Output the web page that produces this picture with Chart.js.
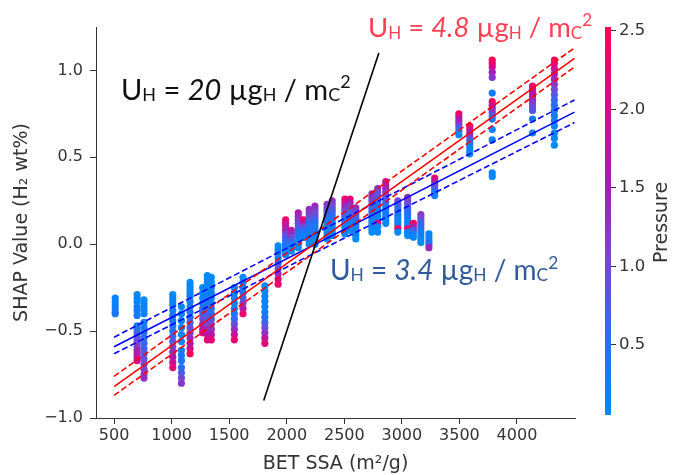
<!DOCTYPE html>
<html>
<head>
<meta charset="utf-8">
<script src="https://cdn.jsdelivr.net/npm/chart.js@4.4.1/dist/chart.umd.min.js"></script>
<style>
  html, body { margin: 0; padding: 0; background: #fff; }
  #wrap { width: 675px; height: 475px; }
</style>
</head>
<body>
<div id="wrap"><canvas id="shapChart" width="675" height="475"></canvas></div>
<script>
// BET SSA of each material column (m2/g)
const columnSSA = [510, 700, 760, 1010, 1085, 1160, 1270, 1310, 1345, 1545, 1620, 1810, 1925,
  1990, 2040, 2100, 2145, 2195, 2245, 2350, 2395, 2505, 2550, 2600, 2740, 2790, 2860, 2965,
  3050, 3100, 3165, 3235, 3285, 3495, 3590, 3785, 4135, 4325];

// SHAP values per column, top to bottom
const columnSHAP = [
  [-0.31, -0.33, -0.35, -0.37, -0.39, -0.40],
  [-0.29, -0.31, -0.33, -0.36, -0.38, -0.41, -0.47, -0.49, -0.51, -0.53, -0.55, -0.57, -0.59, -0.61, -0.63, -0.65, -0.67],
  [-0.32, -0.34, -0.36, -0.38, -0.40, -0.45, -0.48, -0.51, -0.54, -0.57, -0.60, -0.63, -0.66, -0.69, -0.72, -0.75, -0.77],
  [-0.29, -0.31, -0.33, -0.35, -0.38, -0.41, -0.44, -0.47, -0.50, -0.53, -0.56, -0.59, -0.62, -0.65, -0.68, -0.71],
  [-0.36, -0.40, -0.44, -0.48, -0.52, -0.56, -0.61, -0.64, -0.67, -0.71, -0.74, -0.77, -0.80],
  [-0.22, -0.24, -0.26, -0.28, -0.30, -0.33, -0.36, -0.39, -0.42, -0.45, -0.48, -0.51, -0.54, -0.57, -0.60, -0.63],
  [-0.25, -0.28, -0.31, -0.34, -0.37, -0.40, -0.43, -0.46, -0.49, -0.51],
  [-0.18, -0.20, -0.22, -0.25, -0.28, -0.31, -0.34, -0.37, -0.40, -0.43, -0.46, -0.49, -0.52, -0.55],
  [-0.19, -0.22, -0.25, -0.28, -0.31, -0.34, -0.37, -0.40, -0.43, -0.46, -0.49, -0.52, -0.55],
  [-0.25, -0.28, -0.31, -0.34, -0.37, -0.40, -0.43, -0.46, -0.49, -0.52, -0.55],
  [-0.19, -0.22, -0.25, -0.28, -0.31, -0.34, -0.37, -0.40],
  [-0.24, -0.27, -0.30, -0.33, -0.36, -0.39, -0.42, -0.45, -0.48, -0.51, -0.54, -0.57],
  [-0.01, -0.03, -0.05, -0.08, -0.11, -0.14, -0.17, -0.20, -0.23],
  [0.14, 0.12, 0.10, 0.08, 0.06, 0.04, 0.02, 0.00, -0.02, -0.04, -0.06],
  [0.08, 0.06, 0.04, 0.02, 0.00, -0.02, -0.04],
  [0.18, 0.16, 0.14, 0.12, 0.10, 0.08, 0.06, 0.04, 0.02, 0.00, -0.02],
  [0.14, 0.12, 0.10, 0.08, 0.06, 0.04],
  [0.20, 0.18, 0.16, 0.14, 0.12, 0.10, 0.08, 0.06, 0.04, 0.02, 0.00],
  [0.22, 0.20, 0.18, 0.16, 0.14, 0.12, 0.10, 0.08, 0.06, 0.04, 0.02, 0.00],
  [0.23, 0.21, 0.19, 0.17, 0.15, 0.13, 0.11, 0.09, 0.07, 0.05, 0.03],
  [0.25, 0.23, 0.21, 0.19, 0.17, 0.15, 0.13, 0.11, 0.09, 0.07, 0.05],
  [0.26, 0.24, 0.22, 0.20, 0.18, 0.16, 0.14, 0.12, 0.10, 0.08, 0.06],
  [0.26, 0.24, 0.22, 0.20, 0.18, 0.16, 0.14, 0.12, 0.10, 0.08],
  [0.21, 0.19, 0.17, 0.15, 0.13, 0.11, 0.09, 0.07, 0.05, 0.03],
  [0.29, 0.27, 0.25, 0.23, 0.21, 0.19, 0.17, 0.15, 0.13, 0.11, 0.09, 0.07],
  [0.32, 0.30, 0.28, 0.26, 0.24, 0.22, 0.20, 0.18, 0.16, 0.14, 0.12, 0.10, 0.07],
  [0.36, 0.34, 0.32, 0.30, 0.28, 0.26, 0.24, 0.22, 0.20, 0.18, 0.16, 0.14, 0.12],
  [0.25, 0.23, 0.21, 0.19, 0.17, 0.15, 0.13, 0.11, 0.09, 0.07],
  [0.27, 0.25, 0.23, 0.21, 0.19, 0.17, 0.15, 0.13, 0.11, 0.09, 0.07, 0.05],
  [0.12, 0.10, 0.08, 0.06, 0.04],
  [0.17, 0.15, 0.13, 0.11, 0.09, 0.07, 0.05, 0.03, 0.01],
  [0.06, 0.04, 0.02, 0.00, -0.02],
  [0.38, 0.36, 0.34, 0.32, 0.30, 0.28],
  [0.75, 0.73, 0.71, 0.69, 0.67, 0.65, 0.63],
  [0.68, 0.66, 0.64, 0.62, 0.60, 0.58, 0.56, 0.54, 0.52],
  [1.06, 1.04, 1.02, 0.99, 0.96, 0.87, 0.82, 0.80, 0.78, 0.76, 0.74, 0.72, 0.66, 0.60, 0.41, 0.39],
  [0.91, 0.89, 0.87, 0.85, 0.83, 0.81, 0.79, 0.77, 0.72, 0.64],
  [1.06, 1.04, 1.01, 0.98, 0.95, 0.92, 0.89, 0.86, 0.83, 0.80, 0.77, 0.74, 0.71, 0.68, 0.64, 0.61, 0.57]
];

// pressure of each point (colour), same layout as columnSHAP
const columnPressure = [
  [0.10, 0.15, 0.20, 0.25, 0.30, 0.35],
  [0.05, 0.10, 0.15, 0.20, 0.25, 0.30, 0.35, 0.45, 0.60, 0.75, 0.90, 1.05, 1.20, 1.40, 1.60, 1.80, 2.00],
  [0.05, 0.08, 0.10, 0.12, 0.15, 0.20, 0.30, 0.40, 0.50, 0.60, 0.70, 0.80, 0.90, 1.00, 1.10, 1.20, 1.30],
  [0.05, 0.10, 0.15, 0.20, 0.25, 0.30, 0.35, 0.40, 0.50, 0.60, 0.80, 1.00, 1.30, 1.60, 1.90, 2.20],
  [0.05, 0.08, 0.10, 0.12, 0.15, 0.20, 0.25, 0.30, 0.40, 0.50, 0.70, 1.00, 1.20],
  [0.05, 0.08, 0.10, 0.15, 0.20, 0.25, 0.30, 0.40, 0.50, 0.70, 0.90, 1.10, 1.40, 1.70, 2.00, 2.40],
  [0.05, 0.10, 0.20, 0.30, 0.50, 0.70, 1.00, 1.30, 1.70, 2.10],
  [0.05, 0.08, 0.10, 0.15, 0.20, 0.25, 0.35, 0.45, 0.60, 0.80, 1.00, 1.30, 1.70, 2.20],
  [0.05, 0.08, 0.10, 0.15, 0.20, 0.30, 0.40, 0.55, 0.75, 1.00, 1.30, 1.70, 2.20],
  [0.05, 0.08, 0.10, 0.15, 0.25, 0.40, 0.60, 0.90, 1.30, 1.80, 2.30],
  [0.05, 0.10, 0.20, 0.40, 0.70, 1.10, 1.60, 2.30],
  [0.05, 0.08, 0.10, 0.15, 0.20, 0.30, 0.45, 0.65, 0.90, 1.30, 1.80, 2.20],
  [0.05, 0.10, 0.20, 0.35, 0.60, 0.90, 1.30, 1.80, 2.30],
  [2.30, 2.00, 1.70, 1.40, 1.10, 0.80, 0.60, 0.40, 0.30, 0.20, 0.10],
  [1.80, 1.40, 1.00, 0.70, 0.40, 0.20, 0.10],
  [1.60, 1.40, 1.20, 1.00, 0.80, 0.60, 0.40, 0.30, 0.20, 0.10, 0.05],
  [2.40, 1.60, 1.00, 0.60, 0.30, 0.10],
  [1.30, 1.20, 1.00, 0.80, 0.60, 0.50, 0.40, 0.30, 0.20, 0.10, 0.05],
  [1.40, 1.20, 1.00, 0.90, 0.70, 0.50, 0.40, 0.30, 0.20, 0.15, 0.10, 0.05],
  [1.20, 1.00, 0.85, 0.70, 0.55, 0.45, 0.35, 0.25, 0.15, 0.10, 0.05],
  [1.30, 1.10, 0.90, 0.75, 0.60, 0.45, 0.35, 0.25, 0.15, 0.10, 0.05],
  [2.30, 2.00, 1.50, 1.20, 0.90, 0.70, 0.50, 0.35, 0.25, 0.15, 0.10],
  [2.20, 1.60, 1.20, 0.90, 0.70, 0.50, 0.35, 0.25, 0.15, 0.10],
  [1.40, 1.10, 0.85, 0.65, 0.50, 0.35, 0.25, 0.15, 0.10, 0.05],
  [1.50, 1.30, 1.10, 0.90, 0.70, 0.55, 0.40, 0.30, 0.20, 0.15, 0.10, 0.05],
  [1.20, 1.00, 0.85, 0.70, 0.55, 0.45, 0.35, 0.25, 0.20, 0.15, 2.50, 0.10, 0.05],
  [2.00, 1.80, 1.50, 1.20, 1.00, 0.80, 0.60, 0.50, 0.40, 0.30, 0.20, 0.10, 0.05],
  [1.00, 0.80, 0.60, 0.50, 0.40, 0.30, 0.20, 0.10, 2.40, 0.05],
  [1.30, 1.10, 0.90, 0.75, 0.60, 0.45, 0.35, 0.25, 0.15, 2.40, 0.10, 0.05],
  [2.40, 1.50, 0.80, 0.30, 0.10],
  [1.20, 1.00, 0.80, 0.60, 0.45, 0.30, 0.20, 0.10, 0.05],
  [0.10, 0.20, 0.30, 0.50, 1.40],
  [2.20, 1.80, 1.20, 0.80, 0.40, 0.10],
  [2.40, 2.00, 1.60, 1.20, 0.80, 0.40, 0.10],
  [2.50, 2.00, 1.60, 1.20, 0.80, 0.50, 0.30, 0.15, 0.05],
  [2.50, 2.30, 2.10, 1.50, 1.20, 0.30, 2.40, 2.00, 1.60, 1.20, 0.80, 0.40, 0.20, 0.15, 0.10, 0.05],
  [2.30, 2.00, 1.80, 1.60, 1.40, 1.20, 1.00, 0.80, 0.30, 0.10],
  [2.50, 2.20, 1.90, 1.60, 1.40, 1.20, 1.00, 0.80, 0.60, 0.50, 0.40, 0.30, 0.25, 0.20, 0.15, 0.10, 0.05]
];

// fitted lines (end points)
const fitSSA = [500, 4500];
const redFit = [-0.82, 1.07];
const redUpper = [-0.76, 1.13];
const redLower = [-0.87, 1.02];
const blueFit = [-0.59, 0.76];
const blueUpper = [-0.535, 0.83];
const blueLower = [-0.63, 0.70];
const blackSSA = [1800, 2800];
const blackFit = [-0.90, 1.10];

// axes
const xTicks = [500, 1000, 1500, 2000, 2500, 3000, 3500, 4000];
const xTickLabels = ['500', '1000', '1500', '2000', '2500', '3000', '3500', '4000'];
const yTicks = [-1.0, -0.5, 0.0, 0.5, 1.0];
const yTickLabels = ['\u22121.0', '\u22120.5', '0.0', '0.5', '1.0'];
const pressureTicks = [0.5, 1.0, 1.5, 2.0, 2.5];
const pressureTickLabels = ['0.5', '1.0', '1.5', '2.0', '2.5'];
const pressureMin = 0.03;
const pressureMax = 2.52;

// shap-like blue -> red colour map
const cmapStops = [
  [0.0, [0, 138, 250]],
  [0.2, [40, 110, 245]],
  [0.4, [120, 70, 210]],
  [0.6, [165, 30, 180]],
  [0.8, [215, 10, 140]],
  [1.0, [255, 0, 82]]
];
function cmap(t) {
  t = Math.max(0, Math.min(1, t));
  for (let i = 1; i < cmapStops.length; i++) {
    const [t1, c1] = cmapStops[i];
    const [t0, c0] = cmapStops[i - 1];
    if (t <= t1) {
      const f = (t - t0) / (t1 - t0);
      const c = c0.map((v, k) => Math.round(v + (c1[k] - v) * f));
      return `rgb(${c[0]},${c[1]},${c[2]})`;
    }
  }
  return 'rgb(255,0,82)';
}
function pressureColor(p) {
  return cmap((p - pressureMin) / (pressureMax - pressureMin));
}

// flatten columns into points
const points = [];
const pointColors = [];
columnSSA.forEach((x, i) => {
  columnSHAP[i].forEach((y, j) => {
    points.push({ x: x, y: y });
    pointColors.push(pressureColor(columnPressure[i][j]));
  });
});

function linePoints(xs, ys) {
  return xs.map((x, i) => ({ x: x, y: ys[i] }));
}

const tickFont = { family: 'DejaVu Sans', size: 16 };
const labelFont = { family: 'DejaVu Sans', size: 19 };
const axisGrey = '#333333';

// annotations: rich text with sub/superscripts, placed in data coordinates
const notes = [
  { x: 560, y: 0.83, size: 29, color: '#111111',
    parts: [['U'], ['H', 'sub'], [' = '], ['20', 'it'], [' \u00b5g'], ['H', 'sub'], [' / m'], ['C', 'sub'], ['2', 'sup']] },
  { x: 2705, y: 1.19, size: 27.5, color: '#ff3f52',
    parts: [['U'], ['H', 'sub'], [' = '], ['4.8', 'it'], [' \u00b5g'], ['H', 'sub'], [' / m'], ['C', 'sub'], ['2', 'sup']] },
  { x: 2375, y: -0.205, size: 28, color: '#2f5b9e',
    parts: [['U'], ['H', 'sub'], [' = '], ['3.4', 'it'], [' \u00b5g'], ['H', 'sub'], [' / m'], ['C', 'sub'], ['2', 'sup']] }
];
const noteFamily = 'Lato';

const notesPlugin = {
  id: 'notes',
  afterDatasetsDraw(chart) {
    const ctx = chart.ctx;
    const xs = chart.scales.x, ys = chart.scales.y;
    ctx.save();
    ctx.textBaseline = 'alphabetic';
    ctx.textAlign = 'left';
    notes.forEach(n => {
      let px = xs.getPixelForValue(n.x);
      const py = ys.getPixelForValue(n.y);
      ctx.fillStyle = n.color;
      n.parts.forEach(([t, kind]) => {
        let size = n.size, dy = 0, style = '';
        if (kind === 'sub') { size = n.size * 0.62; dy = n.size * 0.04; }
        if (kind === 'sup') { size = n.size * 0.62; dy = -n.size * 0.4; }
        if (kind === 'it') style = 'italic ';
        ctx.font = `${style}${size}px ${noteFamily}`;
        ctx.fillText(t, px, py + dy);
        px += ctx.measureText(t).width;
      });
    });
    ctx.restore();
  }
};

// colour bar for pressure, drawn against the hidden "pc" scale
const colorbarPlugin = {
  id: 'colorbar',
  afterDraw(chart) {
    const ctx = chart.ctx;
    const pc = chart.scales.pc;
    const top = pc.getPixelForValue(pressureMax);
    const bottom = pc.getPixelForValue(pressureMin);
    const barLeft = chart.chartArea.right + 30;
    const barW = 6;
    const grad = ctx.createLinearGradient(0, bottom, 0, top);
    for (let i = 0; i <= 20; i++) grad.addColorStop(i / 20, cmap(i / 20));
    ctx.save();
    ctx.fillStyle = grad;
    ctx.fillRect(barLeft, top, barW, bottom - top - 3);
    ctx.strokeStyle = axisGrey;
    ctx.lineWidth = 1;
    ctx.fillStyle = axisGrey;
    ctx.font = `16.5px ${tickFont.family}`;
    ctx.textBaseline = 'middle';
    ctx.textAlign = 'left';
    pressureTicks.forEach((v, i) => {
      const y = Math.round(pc.getPixelForValue(v)) + 0.5;
      ctx.beginPath();
      ctx.moveTo(barLeft + barW, y);
      ctx.lineTo(barLeft + barW + 5, y);
      ctx.stroke();
      ctx.fillText(pressureTickLabels[i], barLeft + barW + 8, y);
    });
    ctx.translate(barLeft + 57, (top + bottom) / 2);
    ctx.rotate(-Math.PI / 2);
    ctx.textAlign = 'center';
    ctx.font = `${labelFont.size}px ${labelFont.family}`;
    ctx.fillText('Pressure', 0, 0);
    ctx.restore();
  }
};

const ctx = document.getElementById('shapChart').getContext('2d');
const chart = new Chart(ctx, {
  type: 'scatter',
  data: {
    datasets: [
      { data: points, pointBackgroundColor: pointColors, pointRadius: 3.6, pointBorderWidth: 0, order: 5 },
      { type: 'line', data: linePoints(fitSSA, redFit), borderColor: '#ff0000', borderWidth: 1.6, pointRadius: 0, order: 1 },
      { type: 'line', data: linePoints(fitSSA, redUpper), borderColor: '#ff0000', borderWidth: 1.6, borderDash: [6, 3], pointRadius: 0, order: 1 },
      { type: 'line', data: linePoints(fitSSA, redLower), borderColor: '#ff0000', borderWidth: 1.6, borderDash: [6, 3], pointRadius: 0, order: 1 },
      { type: 'line', data: linePoints(fitSSA, blueFit), borderColor: '#0000ff', borderWidth: 1.6, pointRadius: 0, order: 1 },
      { type: 'line', data: linePoints(fitSSA, blueUpper), borderColor: '#0000ff', borderWidth: 1.6, borderDash: [6, 3], pointRadius: 0, order: 1 },
      { type: 'line', data: linePoints(fitSSA, blueLower), borderColor: '#0000ff', borderWidth: 1.6, borderDash: [6, 3], pointRadius: 0, order: 1 },
      { type: 'line', data: linePoints(blackSSA, blackFit), borderColor: '#000000', borderWidth: 1.6, pointRadius: 0, order: 0 }
    ]
  },
  options: {
    responsive: false,
    animation: false,
    devicePixelRatio: 1,
    layout: { padding: { top: 27, right: 100, bottom: 0, left: 0 } },
    plugins: { legend: { display: false }, tooltip: { enabled: false } },
    scales: {
      x: {
        type: 'linear',
        min: 343,
        max: 4504,
        afterFit: s => { s.height = 57; },
        afterBuildTicks: s => { s.ticks = xTicks.map(v => ({ value: v })); },
        grid: { drawOnChartArea: false, drawTicks: true, tickLength: 6, tickColor: axisGrey },
        border: { display: true, color: axisGrey, width: 1 },
        ticks: {
          color: axisGrey, font: tickFont, padding: 2, maxRotation: 0,
          callback: v => xTickLabels[xTicks.indexOf(v)]
        },
        title: { display: true, text: 'BET SSA (m\u00b2/g)', color: axisGrey, font: labelFont, padding: 0 }
      },
      y: {
        type: 'linear',
        min: -1.0,
        max: 1.25,
        afterFit: s => { s.width = 96; },
        afterBuildTicks: s => { s.ticks = yTicks.map(v => ({ value: v })); },
        grid: { drawOnChartArea: false, drawTicks: true, tickLength: 6, tickColor: axisGrey },
        border: { display: true, color: axisGrey, width: 1 },
        ticks: {
          color: axisGrey, font: tickFont, padding: 7,
          callback: v => yTickLabels[yTicks.indexOf(v)]
        },
        title: { display: true, text: 'SHAP Value (H\u2082 wt%)', color: axisGrey, font: labelFont, padding: 11 }
      },
      pc: {
        type: 'linear',
        axis: 'y',
        position: 'right',
        display: false,
        min: pressureMin,
        max: pressureMax,
        afterFit: s => { s.width = 0; }
      }
    }
  },
  plugins: [notesPlugin, colorbarPlugin]
});
</script>
</body>
</html>
